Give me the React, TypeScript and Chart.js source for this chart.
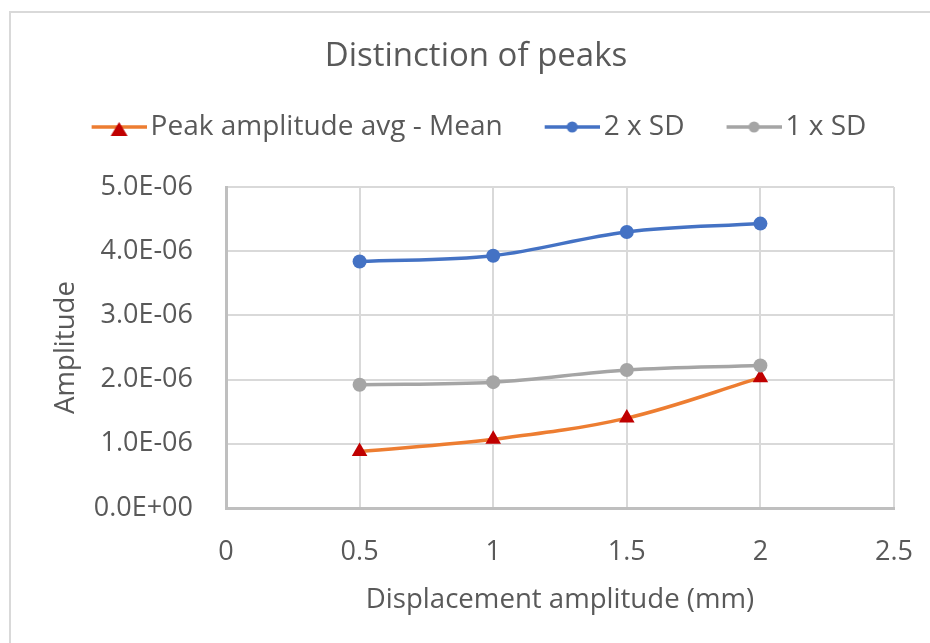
import React, { useEffect, useRef } from 'react';
import { Chart, registerables } from 'chart.js';

Chart.register(...registerables);

// ---- data ----
const displacement = [0.5, 1, 1.5, 2];
const meanAmplitude = [0.88e-6, 1.07e-6, 1.4e-6, 2.03e-6];
const twoSD = [3.84e-6, 3.93e-6, 4.3e-6, 4.43e-6];
const oneSD = [1.92e-6, 1.96e-6, 2.15e-6, 2.22e-6];
const seriesNames = ['Peak amplitude avg - Mean', '2 x SD', '1 x SD'];
const chartTitle = 'Distinction of peaks';
const xAxisTitle = 'Displacement amplitude (mm)';
const yAxisTitle = 'Amplitude';
const xRange = [0, 2.5];
const xStep = 0.5;
const yRange = [0, 5e-6];
const yStep = 1e-6;

// ---- style ----
const FONT = '"Open Sans"';
const TEXT = '#595959';
const GRID = '#d9d9d9';
const AXIS = '#bfbfbf';
const ORANGE = '#ed7d31';
const DARKRED = '#c00000';
const BLUE = '#4472c4';
const GRAY = '#a5a5a5';

const LEG_FS = 28;
const LEG_PAD = 36;
const BOX_W = 51;
const TEXT_GAP = 4;
const SAMPLE_W = 55;
const IMG_W = BOX_W + 2 * (LEG_FS / 2 - TEXT_GAP);
const IMG_H = 26;

function fmtSci(v: number): string {
  if (Math.abs(v) < 1e-15) return '0.0E+00';
  let e = Math.floor(Math.log10(Math.abs(v)) + 1e-9);
  let m = v / Math.pow(10, e);
  let ms = m.toFixed(1);
  if (ms === '10.0') {
    e += 1;
    ms = '1.0';
  }
  return ms + 'E' + (e < 0 ? '-' : '+') + String(Math.abs(e)).padStart(2, '0');
}

function fmtPlain(v: number): string {
  return String(Math.round(v * 1000) / 1000);
}

function legendImage(line: string, fill: string, shape: 'circle' | 'triangle') {
  const c = document.createElement('canvas');
  c.width = IMG_W;
  c.height = IMG_H;
  const g = c.getContext('2d')!;
  const x0 = IMG_W - SAMPLE_W;
  const cy = IMG_H / 2;
  g.strokeStyle = line;
  g.lineWidth = 3.5;
  g.beginPath();
  g.moveTo(x0, cy);
  g.lineTo(IMG_W, cy);
  g.stroke();
  const cx = x0 + SAMPLE_W / 2;
  g.fillStyle = fill;
  g.beginPath();
  if (shape === 'triangle') {
    g.moveTo(cx, cy - 5);
    g.lineTo(cx + 8.5, cy + 9);
    g.lineTo(cx - 8.5, cy + 9);
    g.closePath();
  } else {
    g.arc(cx, cy, 5.5, 0, Math.PI * 2);
  }
  g.fill();
  return c;
}

export default function App() {
  const ref = useRef<HTMLCanvasElement | null>(null);

  useEffect(() => {
    if (!ref.current) return;
    const images = [
      legendImage(ORANGE, DARKRED, 'triangle'),
      legendImage(BLUE, BLUE, 'circle'),
      legendImage(GRAY, GRAY, 'circle'),
    ];
    const toPts = (ys: number[]) => displacement.map((x, i) => ({ x, y: ys[i] }));
    const chart = new Chart(ref.current, {
      type: 'line',
      data: {
        datasets: [
          {
            label: seriesNames[0],
            data: toPts(meanAmplitude),
            borderColor: ORANGE,
            backgroundColor: DARKRED,
            borderWidth: 3.5,
            pointStyle: 'triangle',
            pointRadius: 9,
            pointBackgroundColor: DARKRED,
            pointBorderColor: DARKRED,
            pointBorderWidth: 0,
            tension: 0.35,
            order: 2,
          },
          {
            label: seriesNames[1],
            data: toPts(twoSD),
            borderColor: BLUE,
            backgroundColor: BLUE,
            borderWidth: 3.5,
            pointStyle: 'circle',
            pointRadius: 7,
            pointBackgroundColor: BLUE,
            pointBorderColor: BLUE,
            pointBorderWidth: 0,
            tension: 0.35,
            order: 1,
          },
          {
            label: seriesNames[2],
            data: toPts(oneSD),
            borderColor: GRAY,
            backgroundColor: GRAY,
            borderWidth: 3.5,
            pointStyle: 'circle',
            pointRadius: 7,
            pointBackgroundColor: GRAY,
            pointBorderColor: GRAY,
            pointBorderWidth: 0,
            tension: 0.35,
            order: 0,
          },
        ],
      },
      options: {
        animation: false,
        responsive: false,
        maintainAspectRatio: false,
        layout: { padding: { left: 22, right: 0, top: 0, bottom: 0 } },
        font: { family: FONT },
        plugins: {
          tooltip: { enabled: false },
          title: {
            display: true,
            text: chartTitle,
            color: TEXT,
            font: { family: FONT, size: 33, weight: 'normal' },
            padding: { top: 37.2, bottom: 0.2 },
          },
          subtitle: {
            display: true,
            text: '',
            weight: 500,
            padding: 0,
            font: { family: FONT, size: 10, lineHeight: 3.6 },
          } as any,
          legend: {
            display: true,
            position: 'top',
            labels: {
              color: TEXT,
              font: { family: FONT, size: LEG_FS },
              padding: LEG_PAD,
              usePointStyle: true,
              pointStyleWidth: BOX_W,
              generateLabels: (ch: any) =>
                ch.data.datasets.map((ds: any, i: number) => ({
                  text: ds.label,
                  pointStyle: images[i],
                  datasetIndex: i,
                  hidden: false,
                  fontColor: TEXT,
                  lineWidth: 0,
                  strokeStyle: 'rgba(0,0,0,0)',
                  fillStyle: 'rgba(0,0,0,0)',
                })),
            },
          },
        },
        scales: {
          x: {
            type: 'linear',
            min: xRange[0],
            max: xRange[1],
            afterFit: (s: any) => {
              s.height = 135;
              s.paddingRight = 36;
            },
            ticks: {
              stepSize: xStep,
              color: TEXT,
              padding: 28,
              font: { family: FONT, size: 27 },
              callback: (v: any) => fmtPlain(Number(v)),
            },
            grid: { color: GRID, lineWidth: 2, drawTicks: false },
            border: { color: AXIS, width: 3 },
            title: {
              display: true,
              text: xAxisTitle,
              color: TEXT,
              font: { family: FONT, size: 27.6 },
              padding: { top: 0, bottom: 26.5 },
            },
          },
          y: {
            type: 'linear',
            min: yRange[0],
            max: yRange[1],
            afterFit: (s: any) => {
              s.width = 204;
            },
            ticks: {
              stepSize: yStep,
              color: TEXT,
              padding: 33,
              font: { family: FONT, size: 27 },
              callback: (v: any) => fmtSci(Number(v)),
            },
            grid: { color: GRID, lineWidth: 2, drawTicks: false },
            border: { color: AXIS, width: 3 },
            title: {
              display: true,
              text: yAxisTitle,
              color: TEXT,
              font: { family: FONT, size: 27.6 },
              padding: { top: 27.4, bottom: 0 },
            },
          },
        },
      } as any,
    });
    return () => chart.destroy();
  }, []);

  return (
    <div
      style={{
        position: 'fixed',
        left: 0,
        top: 0,
        width: 930,
        height: 643,
        overflow: 'hidden',
        background: '#ffffff',
      }}
    >
      <div
        style={{
          position: 'absolute',
          left: 9,
          top: 11,
          width: 1000,
          height: 1000,
          border: '2px solid #d9d9d9',
          boxSizing: 'border-box',
        }}
      />
      <canvas
        ref={ref}
        width={930}
        height={643}
        style={{ position: 'absolute', left: 0, top: 0, width: 930, height: 643 }}
      />
    </div>
  );
}
